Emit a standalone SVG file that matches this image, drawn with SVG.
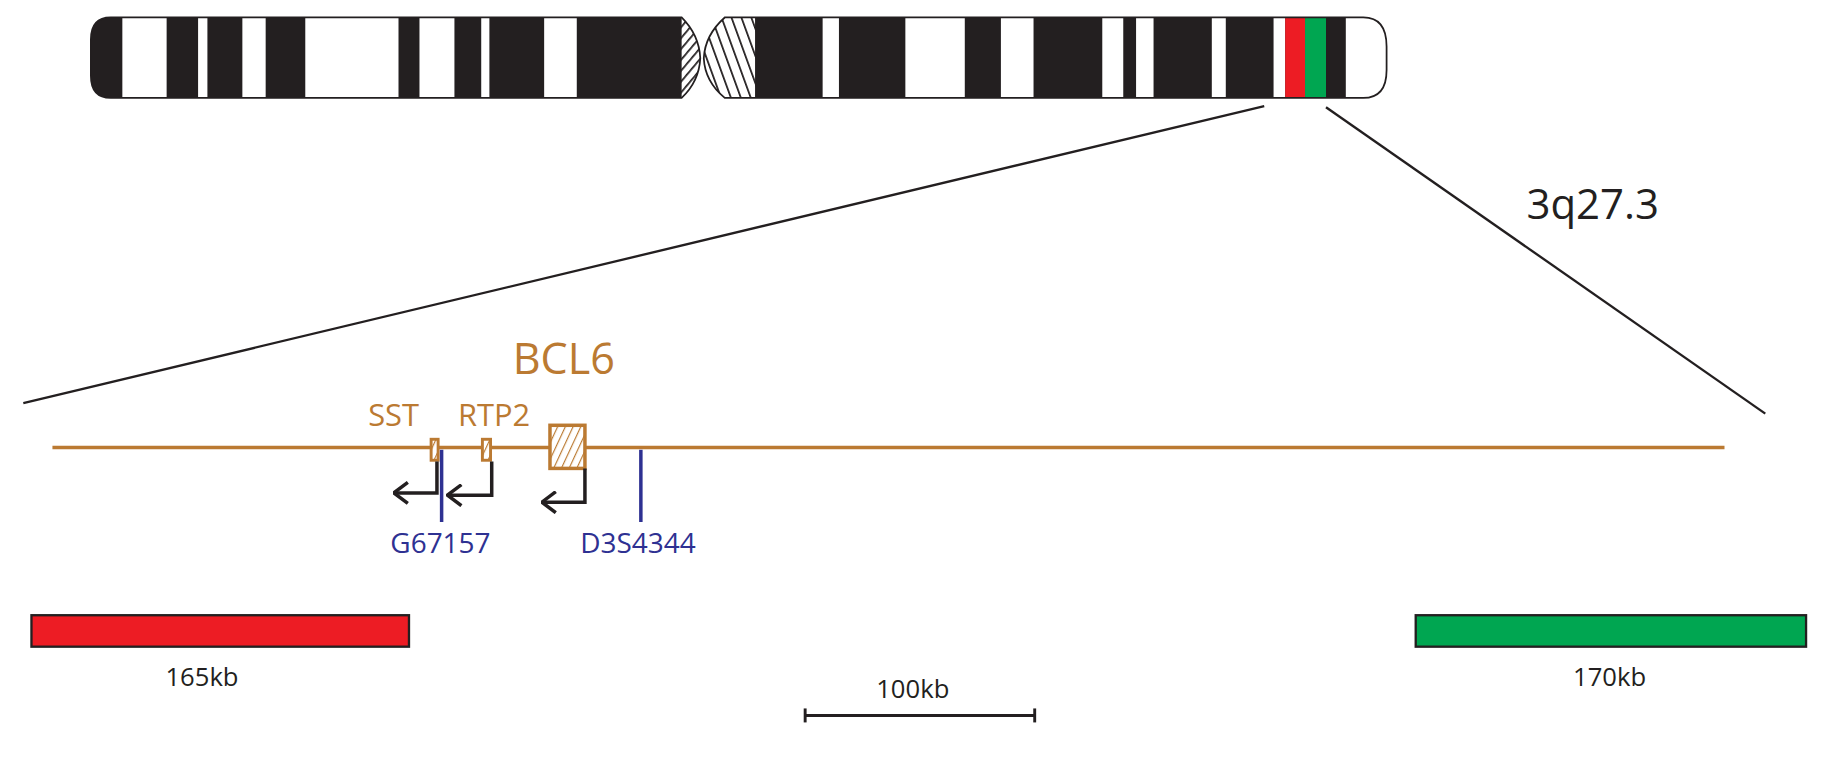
<svg xmlns="http://www.w3.org/2000/svg" width="1827" height="758" viewBox="0 0 1827 758">
<style>
.k{fill:#231f20}.w{fill:#fff}
.g{font-family:"Open Sans","Liberation Sans",sans-serif;fill:#bb7a32}
.b{font-family:"Open Sans","Liberation Sans",sans-serif;fill:#2e3192;font-size:24px}
.t{font-family:"Open Sans","Liberation Sans",sans-serif;fill:#231f20;font-size:22px}
.arr{fill:none;stroke:#231f20;stroke-width:3}
</style>
<defs>
<pattern id="h1" width="6" height="6" patternUnits="userSpaceOnUse" patternTransform="rotate(40)"><rect width="6" height="6" fill="#fff"/><line x1="0" y1="0" x2="0" y2="6" stroke="#231f20" stroke-width="3"/></pattern>
<pattern id="h2" width="8" height="8" patternUnits="userSpaceOnUse" patternTransform="rotate(-20)"><rect width="8" height="8" fill="#fff"/><line x1="0" y1="0" x2="0" y2="8" stroke="#231f20" stroke-width="3"/></pattern>
<pattern id="h3" width="6" height="6" patternUnits="userSpaceOnUse" patternTransform="rotate(25)"><rect width="6" height="6" fill="#fff"/><line x1="0" y1="0" x2="0" y2="6" stroke="#bb7a32" stroke-width="2"/></pattern>
<clipPath id="la"><path d="M95 15H585Q600 30 601 50Q600 70 585 84H95Q78 84 78 65V34Q78 15 95 15Z"/></clipPath>
<clipPath id="ra"><path d="M622 15H1170Q1190 15 1190 40V60Q1190 84 1170 84H622Q605 70 604 50Q605 30 622 15Z"/></clipPath>
<marker id="ah" viewBox="0 0 14 20" refX="13" refY="10" markerWidth="14" markerHeight="20" markerUnits="userSpaceOnUse" orient="auto"><path d="M1 1L13 10L1 19" fill="none" stroke="#231f20" stroke-width="3"/></marker>
</defs>
<g transform="scale(1.1652)">
<g id="chromosome">
<g clip-path="url(#la)">
<rect x="70" y="10" width="540" height="80" class="k"/>
<rect x="105" y="10" width="38" height="80" class="w"/>
<rect x="170" y="10" width="8" height="80" class="w"/>
<rect x="208" y="10" width="20" height="80" class="w"/>
<rect x="262" y="10" width="80" height="80" class="w"/>
<rect x="360" y="10" width="30" height="80" class="w"/>
<rect x="413" y="10" width="7" height="80" class="w"/>
<rect x="467" y="10" width="28" height="80" class="w"/>
<rect x="585" y="10" width="22" height="80" fill="url(#h1)"/>
</g>
<path d="M95 15H585Q600 30 601 50Q600 70 585 84H95Q78 84 78 65V34Q78 15 95 15Z" fill="none" stroke="#231f20" stroke-width="1.5"/>
<g clip-path="url(#ra)">
<rect x="600" y="10" width="600" height="80" class="k"/>
<rect x="600" y="10" width="48" height="80" fill="url(#h2)"/>
<rect x="706" y="10" width="14" height="80" class="w"/>
<rect x="777" y="10" width="51" height="80" class="w"/>
<rect x="859" y="10" width="28" height="80" class="w"/>
<rect x="946" y="10" width="18" height="80" class="w"/>
<rect x="975" y="10" width="15" height="80" class="w"/>
<rect x="1040" y="10" width="12" height="80" class="w"/>
<rect x="1093" y="10" width="10" height="80" class="w"/>
<rect x="1103" y="10" width="17" height="80" fill="#ed1c24"/>
<rect x="1120" y="10" width="18" height="80" fill="#00a651"/>
<rect x="1155" y="10" width="50" height="80" class="w"/>
</g>
<path d="M622 15H1170Q1190 15 1190 40V60Q1190 84 1170 84H622Q605 70 604 50Q605 30 622 15Z" fill="none" stroke="#231f20" stroke-width="1.5"/>
</g>
<g id="connectors" stroke="#231f20" stroke-width="2" fill="none">
<line x1="1085" y1="91" x2="20" y2="346"/>
<line x1="1138" y1="92" x2="1515" y2="355"/>
</g>
<text x="1310" y="188" font-family="'Open Sans','Liberation Sans',sans-serif" font-size="36" fill="#231f20">3q27.3</text>
<g id="locus">
<line x1="45" y1="384" x2="1480" y2="384" stroke="#bb7a32" stroke-width="3"/>
<text class="g" x="440" y="321" font-size="37">BCL6</text>
<text class="g" x="316" y="366" font-size="26.5">SST</text>
<text class="g" x="393" y="366" font-size="26.5">RTP2</text>
<rect x="370" y="377" width="6" height="18" fill="url(#h3)" stroke="#bb7a32" stroke-width="2.5"/>
<rect x="414" y="377" width="7" height="18" fill="url(#h3)" stroke="#bb7a32" stroke-width="2.5"/>
<rect x="472" y="365" width="30" height="37" fill="url(#h3)" stroke="#bb7a32" stroke-width="3"/>
<path class="arr" d="M375 396V423H338" marker-end="url(#ah)"/>
<path class="arr" d="M422 396V425H384" marker-end="url(#ah)"/>
<path class="arr" d="M502 402V431H465" marker-end="url(#ah)"/>
<line x1="379" y1="386" x2="379" y2="448" stroke="#2e3192" stroke-width="3"/>
<line x1="550" y1="386" x2="550" y2="448" stroke="#2e3192" stroke-width="3"/>
<text class="b" x="335" y="475">G67157</text>
<text class="b" x="498" y="475">D3S4344</text>
</g>
<g id="probes">
<rect x="27" y="528" width="324" height="27" fill="#ed1c24" stroke="#231f20" stroke-width="2"/>
<rect x="1215" y="528" width="335" height="27" fill="#00a651" stroke="#231f20" stroke-width="2"/>
<text class="t" x="142" y="589">165kb</text>
<text class="t" x="1350" y="589">170kb</text>
</g>
<g id="scalebar" stroke="#231f20" stroke-width="2.5">
<line x1="691" y1="614" x2="888" y2="614"/>
<line x1="691" y1="608" x2="691" y2="620"/>
<line x1="888" y1="608" x2="888" y2="620"/>
</g>
<text class="t" x="752" y="599">100kb</text>
</g>
</svg>
